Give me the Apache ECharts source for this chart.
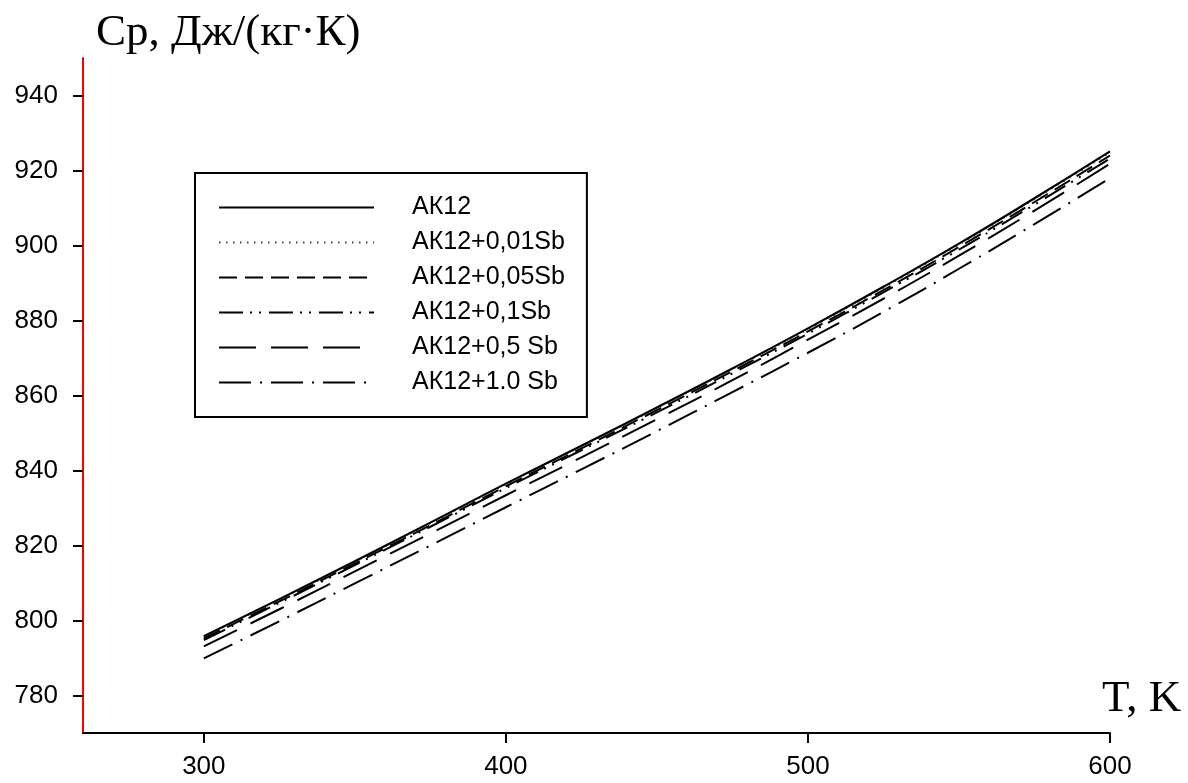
<!DOCTYPE html>
<html>
<head>
<meta charset="utf-8">
<script src="https://cdn.jsdelivr.net/npm/echarts@6/dist/echarts.min.js"></script>
<style>html,body{margin:0;padding:0;background:#fff;}#c{width:1188px;height:783px;}</style>
</head>
<body>
<div id="c"></div>
<script>
const temps = [300, 325, 350, 375, 400, 425, 450, 475, 500, 525, 550, 575, 600];
const seriesNames = ['АК12', 'АК12+0,01Sb', 'АК12+0,05Sb', 'АК12+0,1Sb', 'АК12+0,5 Sb', 'АК12+1.0 Sb'];
const ak12     = [795.8, 805.7, 815.8, 826.1, 836.5, 846.6, 856.8, 867.2, 877.9, 889.0, 900.5, 912.6, 925.1];
const ak12sb001 = [795.6, 805.5, 815.6, 825.9, 836.3, 846.4, 856.6, 867.0, 877.6, 888.7, 900.2, 912.3, 924.7];
const ak12sb005 = [795.2, 805.1, 815.2, 825.4, 835.8, 845.9, 856.1, 866.5, 877.1, 888.1, 899.6, 911.6, 924.0];
const ak12sb01  = [794.8, 804.7, 814.8, 825.0, 835.3, 845.4, 855.5, 865.9, 876.5, 887.5, 898.9, 910.9, 923.2];
const ak12sb05  = [793.1, 803.0, 813.1, 823.2, 833.4, 843.5, 853.7, 864.1, 874.9, 885.8, 897.3, 909.3, 921.8];
const ak12sb10  = [789.9, 799.8, 809.9, 820.0, 830.2, 840.3, 850.5, 860.9, 871.4, 882.3, 893.8, 905.7, 918.0];
const xTicks = [300, 400, 500, 600];
const yTicks = [780, 800, 820, 840, 860, 880, 900, 920, 940];
const yTitle = 'Cp, Дж/(кг·К)';
const xTitle = 'T, K';

const allValues = [ak12, ak12sb001, ak12sb005, ak12sb01, ak12sb05, ak12sb10];
const styles = [
  {type: 'solid', width: 2.2, color: '#000'},
  {type: [1.5, 5.5], width: 1.3, color: '#444'},
  {type: [18, 8], width: 2, color: '#000'},
  {type: [24, 7, 2, 7, 2, 8], width: 2, color: '#000'},
  {type: [37, 15], width: 2, color: '#000'},
  {type: [32, 9, 2, 9], width: 2, color: '#000'}
];

const series = allValues.map((vals, i) => ({
  name: seriesNames[i],
  type: 'line',
  data: temps.map((t, j) => [t, vals[j]]),
  showSymbol: false,
  symbol: 'none',
  smooth: true,
  lineStyle: {color: styles[i].color, width: styles[i].width, type: styles[i].type},
  itemStyle: {color: styles[i].color},
  animation: false,
  z: 6 - i
}));

const chart = echarts.init(document.getElementById('c'));
chart.setOption({
  animation: false,
  backgroundColor: '#fff',
  grid: {left: 83, right: 78, top: 58, bottom: 50, containLabel: false},
  xAxis: {
    type: 'value', min: 260, max: 600,
    axisLine: {show: true, lineStyle: {color: '#000', width: 2}},
    axisTick: {show: true, customValues: xTicks, length: 10, lineStyle: {color: '#000', width: 2}},
    axisLabel: {customValues: xTicks, color: '#000', fontFamily: 'Liberation Sans, Arial, sans-serif', fontSize: 26, margin: 21},
    splitLine: {show: false}
  },
  yAxis: {
    type: 'value', min: 770, max: 950,
    axisLine: {show: true, lineStyle: {color: '#ff0000', width: 2}},
    axisTick: {show: true, customValues: yTicks, length: 10, lineStyle: {color: '#000', width: 2}},
    axisLabel: {customValues: yTicks, color: '#000', fontFamily: 'Liberation Sans, Arial, sans-serif', fontSize: 26, margin: 25},
    splitLine: {show: false}
  },
  legend: {
    orient: 'vertical',
    left: 195, top: 173,
    padding: [22, 22, 22, 23],
    itemGap: 10,
    itemWidth: 155,
    itemHeight: 20,
    borderColor: '#000',
    borderWidth: 2,
    backgroundColor: '#fff',
    selectedMode: false,
    data: seriesNames,
    itemStyle: {opacity: 0},
    textStyle: {color: '#000', fontFamily: 'Liberation Sans, Arial, sans-serif', fontSize: 25, padding: [0, 0, 0, 33], lineHeight: 20}
  },
  graphic: [
    {type: 'text', left: 96, top: 11, style: {text: yTitle, font: '45px "Liberation Serif", "Times New Roman", serif', fill: '#000'}},
    {type: 'text', left: 1102, top: 677, style: {text: xTitle, font: '45px "Liberation Serif", "Times New Roman", serif', fill: '#000'}}
  ],
  series: series
});
</script>
</body>
</html>
